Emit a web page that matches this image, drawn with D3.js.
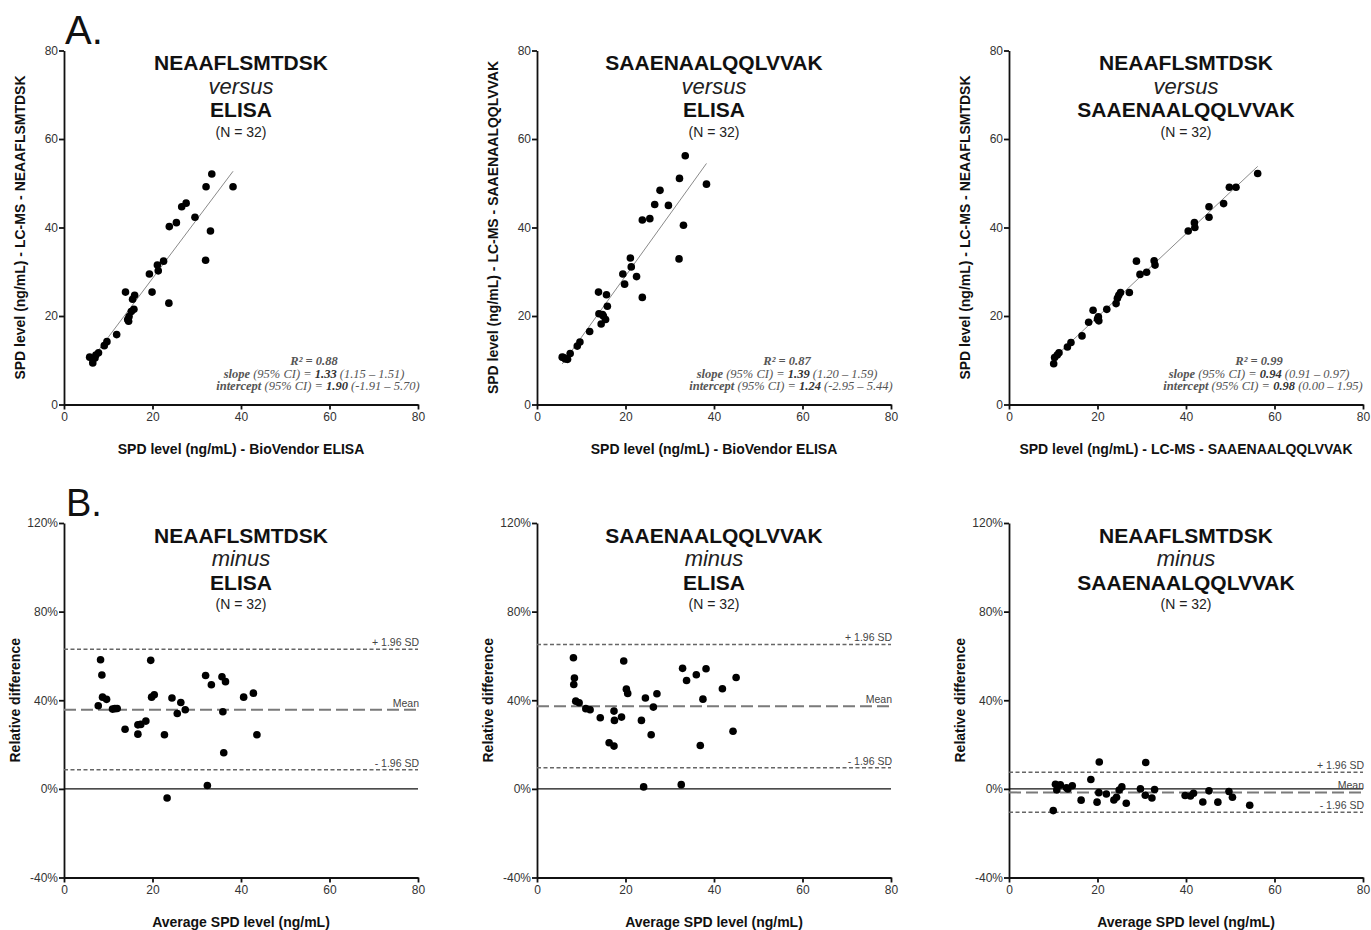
<!DOCTYPE html>
<html>
<head>
<meta charset="utf-8">
<script src="https://cdn.jsdelivr.net/npm/d3@7"></script>
<style>
    body { margin: 0; background: #fff; }
    text { font-family: "Liberation Sans", Arial, sans-serif; }
</style>
</head>
<body>
<div id="chart"></div>
<script>
// ---- data ----
// Panel A: correlation plots
const a1X = [5.8, 6.5, 7.0, 7.8, 7.2, 9.1, 9.7, 11.9, 13.9, 14.4, 14.7, 14.6, 15.5, 15.96, 15.8, 15.2, 19.9, 19.3, 21.1, 21.3, 22.5, 23.8, 23.7, 25.4, 26.6, 27.6, 29.6, 32.1, 33.4, 33.1, 32.0, 38.2];
const a1Y = [10.7, 9.4, 10.5, 11.7, 11.2, 13.3, 14.2, 15.8, 25.4, 19.2, 19.9, 18.8, 23.8, 24.7, 21.5, 21.0, 25.4, 29.5, 31.5, 30.2, 32.4, 40.2, 22.9, 41.1, 44.7, 45.5, 42.3, 49.2, 52.1, 39.2, 32.6, 49.2];
const a2X = [5.7, 6.4, 6.9, 7.5, 6.0, 9.1, 9.7, 11.9, 13.9, 14.0, 14.8, 14.5, 15.5, 15.7, 15.9, 15.0, 19.4, 19.8, 21.1, 21.3, 22.5, 23.8, 23.8, 25.5, 26.6, 27.8, 29.7, 32.2, 33.5, 33.1, 32.1, 38.3];
const a2Y = [10.7, 10.3, 10.2, 11.5, 10.6, 13.2, 14.1, 16.5, 25.4, 20.5, 20.3, 18.2, 19.2, 24.8, 22.2, 20.0, 29.5, 27.2, 33.1, 31.1, 28.9, 24.2, 41.7, 42.0, 45.2, 48.4, 45.0, 51.1, 56.2, 40.5, 32.9, 49.8];
const a3X = [10.1, 10.3, 10.9, 11.3, 13.2, 14.0, 16.5, 18.0, 19.0, 20.2, 20.3, 20.0, 22.1, 24.2, 24.5, 24.8, 25.2, 27.2, 28.8, 29.6, 31.1, 32.8, 33.0, 40.5, 41.9, 42.0, 45.2, 45.2, 48.5, 49.8, 51.3, 56.2];
const a3Y = [9.2, 10.6, 11.2, 11.7, 13.0, 14.0, 15.5, 18.6, 21.3, 19.8, 18.9, 19.3, 21.5, 22.8, 24.0, 24.7, 25.3, 25.3, 32.4, 29.4, 29.9, 32.5, 31.5, 39.2, 41.1, 40.0, 42.3, 44.7, 45.4, 49.1, 49.1, 52.2];

// regression stats: [R2, slope, slopeLo, slopeHi, intercept, intLo, intHi]
const a1Stats = ["0.88", 1.33, "1.15", "1.51", 1.90, "-1.91", "5.70"];
const a2Stats = ["0.87", 1.39, "1.20", "1.59", 1.24, "-2.95", "5.44"];
const a3Stats = ["0.99", 0.94, "0.91", "0.97", 0.98, "0.00", "1.95"];

// Panel B: Bland-Altman plots (x = average, y = relative difference in %)
const b1X = [8.26, 8.56, 7.74, 8.71, 9.62, 10.96, 11.5, 12.02, 13.8, 16.7, 17.35, 16.7, 18.5, 19.6, 19.8, 20.4, 22.7, 24.4, 23.3, 25.6, 26.4, 27.4, 32.0, 32.4, 33.3, 35.7, 36.5, 35.9, 36.1, 40.6, 42.8, 43.6];
const b1Y = [58.3, 51.4, 37.5, 41.4, 40.4, 36.0, 36.2, 36.3, 26.9, 28.9, 29.1, 24.7, 30.6, 58.0, 41.4, 42.5, 24.4, 41.0, -4.1, 34.0, 39.0, 35.7, 51.2, 1.5, 47.0, 50.6, 48.4, 34.8, 16.3, 41.4, 43.2, 24.4];
const b2X = [8.23, 8.46, 8.31, 8.76, 9.52, 11.03, 12.0, 14.3, 16.3, 17.4, 17.4, 17.5, 19.1, 19.6, 20.2, 20.5, 23.6, 24.5, 24.1, 26.3, 25.8, 27.1, 32.9, 32.6, 33.8, 36.0, 38.2, 37.5, 36.9, 41.9, 45.0, 44.3];
const b2Y = [59.2, 50.0, 47.1, 39.6, 38.9, 36.2, 35.7, 32.1, 20.8, 19.3, 35.1, 30.9, 32.4, 57.7, 45.0, 43.1, 30.9, 41.0, 0.9, 36.9, 24.4, 42.9, 54.4, 1.9, 48.9, 51.5, 54.2, 40.5, 19.6, 45.2, 50.3, 26.0];
const b3X = [10.0, 10.5, 10.8, 11.6, 13.0, 13.3, 14.3, 16.3, 18.5, 20.4, 20.3, 19.9, 22.0, 23.7, 24.3, 24.9, 25.5, 26.5, 29.7, 30.9, 30.8, 32.3, 32.9, 39.8, 41.0, 41.7, 43.8, 45.2, 47.2, 49.7, 50.5, 54.4];
const b3Y = [-9.8, 2.1, -0.5, 1.8, 0.5, 0, 1.4, -5.1, 4.2, 12.1, -1.7, -6.0, -2.3, -5.0, -3.8, -0.5, 0.9, -6.5, 0, 11.9, -2.9, -4.1, -0.3, -3.0, -3.2, -2.0, -5.9, -0.9, -6.0, -1.2, -3.8, -7.4];

// limits of agreement: [upper, mean, lower]
const b1Lines = [63.0, 35.7, 8.6];
const b2Lines = [65.2, 37.3, 9.5];
const b3Lines = [7.5, -1.6, -10.6];

const xTicks = [0, 20, 40, 60, 80];
const aYTicks = [0, 20, 40, 60, 80];
const bYTicks = [-40, 0, 40, 80, 120];

const nText = "(N = 32)";
const aTitles = [
    ["NEAAFLSMTDSK", "versus", "ELISA"],
    ["SAAENAALQQLVVAK", "versus", "ELISA"],
    ["NEAAFLSMTDSK", "versus", "SAAENAALQQLVVAK"]
];
const bTitles = [
    ["NEAAFLSMTDSK", "minus", "ELISA"],
    ["SAAENAALQQLVVAK", "minus", "ELISA"],
    ["NEAAFLSMTDSK", "minus", "SAAENAALQQLVVAK"]
];
const aYLabels = [
    "SPD level (ng/mL) - LC-MS - NEAAFLSMTDSK",
    "SPD level (ng/mL) - LC-MS - SAAENAALQQLVVAK",
    "SPD level (ng/mL) - LC-MS - NEAAFLSMTDSK"
];
const aXLabels = [
    "SPD level (ng/mL) - BioVendor ELISA",
    "SPD level (ng/mL) - BioVendor ELISA",
    "SPD level (ng/mL) - LC-MS - SAAENAALQQLVVAK"
];
const bYLabel = "Relative difference";
const bXLabel = "Average SPD level (ng/mL)";
const sdLabels = ["+ 1.96 SD", "Mean", "- 1.96 SD"];

// ---- layout ----
const W = 1371, H = 930;
const colLeft = [64, 537, 1009];
const plotW = 354;
const aTop = 50.5, aBottom = 404.5;
const bTop = 523, bBottom = 877.5;

const SANS = "'Liberation Sans', Arial, sans-serif";
const SERIF = "'Liberation Serif', 'Times New Roman', serif";
const DOT_COLOR = "#000";
const REG_COLOR = "#8a8a8a";
const TICK_TEXT = "#333";
const NOTE_COLOR = "#555";

var svg = d3.select("#chart")
    .append("svg")
    .attr("width", W)
    .attr("height", H);

svg.append("rect").attr("width", W).attr("height", H).attr("fill", "white");

function drawAxes(g, xScale, yScale, yTicks, yFmt, plotH) {
    var xa = g.append("g")
        .attr("transform", `translate(0,${plotH})`)
        .call(d3.axisBottom(xScale).tickValues(xTicks).tickSize(5).tickSizeOuter(0).tickPadding(3));
    var ya = g.append("g")
        .call(d3.axisLeft(yScale).tickValues(yTicks).tickFormat(yFmt).tickSize(5).tickSizeOuter(0).tickPadding(1));
    [xa, ya].forEach(a => {
        a.selectAll("path, line").attr("stroke", "#111").attr("stroke-width", 1.8);
        a.selectAll("text").attr("fill", TICK_TEXT).style("font-size", "12px")
            .style("font-family", SANS);
    });
}

function drawTitle(g, cx, top, lines) {
    var t = g.append("g").attr("text-anchor", "middle").attr("fill", "#111");
    t.append("text").attr("x", cx).attr("y", top + 19.5)
        .style("font-size", "21px").style("font-weight", "bold").text(lines[0]);
    t.append("text").attr("x", cx).attr("y", top + 43)
        .style("font-size", "22px").style("font-style", "italic").attr("fill", "#222").text(lines[1]);
    t.append("text").attr("x", cx).attr("y", top + 66.5)
        .style("font-size", "21px").style("font-weight", "bold").text(lines[2]);
    t.append("text").attr("x", cx).attr("y", top + 86)
        .style("font-size", "14px").attr("fill", "#222").text(nText);
}

function drawLabels(g, plotH, yOff, yLabel, xLabel) {
    g.append("text")
        .attr("transform", `translate(${-yOff},${plotH / 2}) rotate(-90)`)
        .attr("text-anchor", "middle")
        .attr("dy", "0.35em")
        .style("font-size", "14px").style("font-weight", "bold").attr("fill", "#111")
        .text(yLabel);
    g.append("text")
        .attr("x", plotW / 2).attr("y", plotH + 49)
        .attr("text-anchor", "middle")
        .style("font-size", "14px").style("font-weight", "bold").attr("fill", "#111")
        .text(xLabel);
}

// ---- Panel A ----
const aX = [a1X, a2X, a3X], aY = [a1Y, a2Y, a3Y], aStats = [a1Stats, a2Stats, a3Stats];

aX.forEach((xs, i) => {
    var plotH = aBottom - aTop;
    var g = svg.append("g").attr("transform", `translate(${colLeft[i]},${aTop})`);
    var xScale = d3.scaleLinear().domain([0, 80]).range([0, plotW]);
    var yScale = d3.scaleLinear().domain([0, 80]).range([plotH, 0]);
    var ys = aY[i];
    var st = aStats[i];

    drawAxes(g, xScale, yScale, aYTicks, d3.format("d"), plotH);

    // regression line over the range of the data
    var xMin = d3.min(xs), xMax = d3.max(xs);
    g.append("line")
        .attr("x1", xScale(xMin)).attr("y1", yScale(st[1] * xMin + st[4]))
        .attr("x2", xScale(xMax)).attr("y2", yScale(st[1] * xMax + st[4]))
        .attr("stroke", REG_COLOR).attr("stroke-width", 1);

    g.selectAll(".dot")
        .data(xs.map((x, k) => [x, ys[k]]))
        .enter()
        .append("circle")
        .attr("class", "dot")
        .attr("cx", d => xScale(d[0]))
        .attr("cy", d => yScale(d[1]))
        .attr("r", 3.8)
        .attr("fill", DOT_COLOR);

    // stats note
    var note = g.append("g").attr("text-anchor", "middle")
        .style("font-style", "italic").style("font-size", "12.5px").attr("fill", NOTE_COLOR);
    var nx = 250;
    var t1 = note.append("text").attr("x", nx).attr("y", plotH - 39.5).style("font-family", SERIF);
    t1.append("tspan").style("font-weight", "bold").text("R\u00B2 = " + st[0]);
    var t2 = note.append("text").attr("x", nx).attr("y", plotH - 27).style("font-family", SERIF);
    t2.append("tspan").style("font-weight", "bold").text("slope");
    t2.append("tspan").text(" (95% CI) = ");
    t2.append("tspan").style("font-weight", "bold").attr("fill", "#333").text(st[1].toFixed(2));
    t2.append("tspan").text(` (${st[2]} \u2013 ${st[3]})`);
    var t3 = note.append("text").attr("x", nx + 4).attr("y", plotH - 14.5).style("font-family", SERIF);
    t3.append("tspan").style("font-weight", "bold").text("intercept");
    t3.append("tspan").text(" (95% CI) = ");
    t3.append("tspan").style("font-weight", "bold").attr("fill", "#333").text(st[4].toFixed(2));
    t3.append("tspan").text(` (${st[5]} \u2013 ${st[6]})`);

    drawTitle(g, plotW / 2, 0, aTitles[i]);
    drawLabels(g, plotH, 44, aYLabels[i], aXLabels[i]);
});

svg.append("text").attr("x", 65).attr("y", 44)
    .style("font-size", "40px").attr("fill", "#111").text("A.");

// ---- Panel B ----
const bX = [b1X, b2X, b3X], bY = [b1Y, b2Y, b3Y], bLines = [b1Lines, b2Lines, b3Lines];

bX.forEach((xs, i) => {
    var plotH = bBottom - bTop;
    var g = svg.append("g").attr("transform", `translate(${colLeft[i]},${bTop})`);
    var xScale = d3.scaleLinear().domain([0, 80]).range([0, plotW]);
    var yScale = d3.scaleLinear().domain([-40, 120]).range([plotH, 0]);
    var ys = bY[i];
    var lines = bLines[i];

    drawAxes(g, xScale, yScale, bYTicks, d => d + "%", plotH);

    // zero line
    g.append("line")
        .attr("x1", 0).attr("x2", plotW)
        .attr("y1", yScale(0)).attr("y2", yScale(0))
        .attr("stroke", "#111").attr("stroke-width", 1.4);

    // limits of agreement and mean
    lines.forEach((v, k) => {
        var isMean = k === 1;
        g.append("line")
            .attr("x1", 0).attr("x2", plotW)
            .attr("y1", yScale(v)).attr("y2", yScale(v))
            .attr("stroke", isMean ? "#7a7a7a" : "#666")
            .attr("stroke-width", isMean ? 2 : 1.5)
            .attr("stroke-dasharray", isMean ? "12,5" : "4,2.5");
        g.append("text")
            .attr("x", plotW + 1).attr("y", yScale(v) - 3)
            .attr("text-anchor", "end")
            .style("font-size", "10.5px").attr("fill", "#444")
            .text(sdLabels[k]);
    });

    g.selectAll(".dot")
        .data(xs.map((x, k) => [x, ys[k]]))
        .enter()
        .append("circle")
        .attr("class", "dot")
        .attr("cx", d => xScale(d[0]))
        .attr("cy", d => yScale(d[1]))
        .attr("r", 3.8)
        .attr("fill", DOT_COLOR);

    drawTitle(g, plotW / 2, 0, bTitles[i]);
    drawLabels(g, plotH, 49, bYLabel, bXLabel);
});

svg.append("text").attr("x", 66).attr("y", 516)
    .style("font-size", "38px").attr("fill", "#111").text("B.");
</script>
</body>
</html>
